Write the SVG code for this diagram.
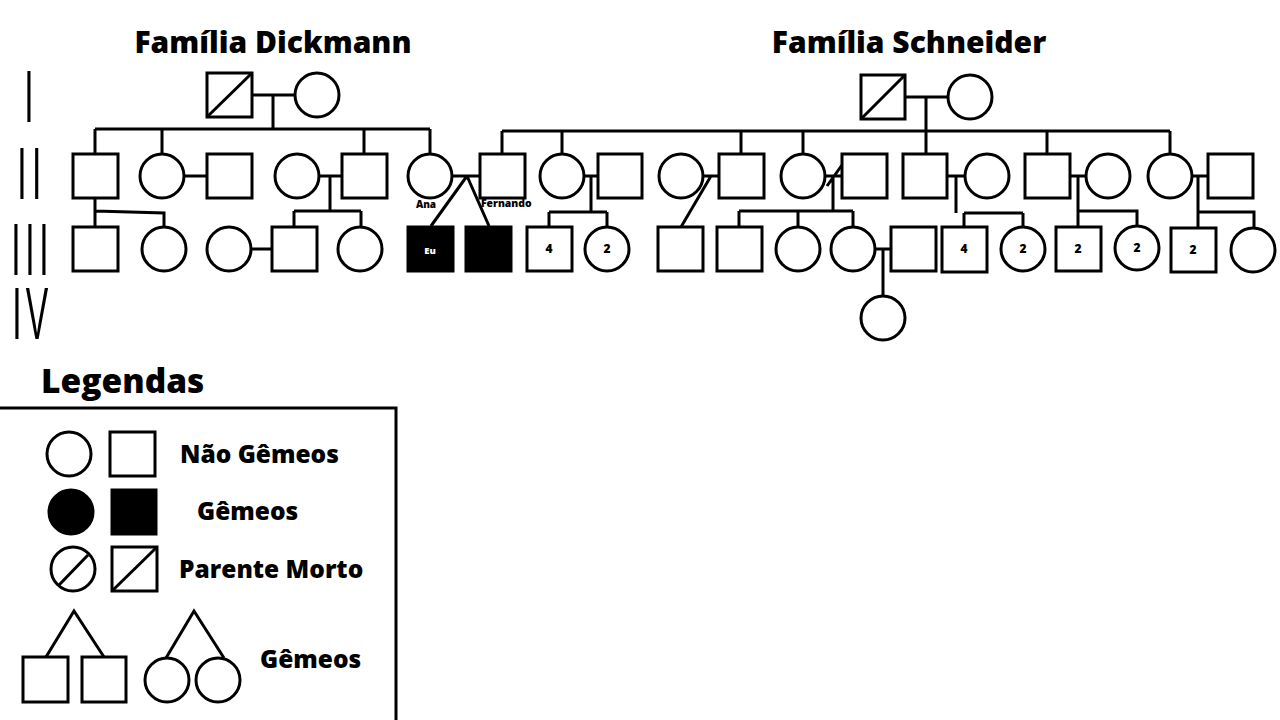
<svg xmlns="http://www.w3.org/2000/svg" width="1280" height="720" viewBox="0 0 1280 720">
<style>
.n{fill:#fff;stroke:#000;stroke-width:3}
.f{fill:#000;stroke:#000;stroke-width:3}
.l{fill:none;stroke:#000;stroke-width:3}
.t{font-family:"Open Sans","Liberation Sans",sans-serif;font-weight:800;fill:#000}
.rn{font-family:"Liberation Sans",sans-serif;font-size:75px;fill:#000}
.num{font-family:"Open Sans","Liberation Sans",sans-serif;font-weight:800;font-size:12px;text-anchor:middle;fill:#000}
.lg{font-size:24.5px}
</style>
<rect width="1280" height="720" fill="#fff"/>

<!-- titles -->
<text class="t" x="273" y="53" font-size="30" text-anchor="middle">Família Dickmann</text>
<text class="t" x="909" y="53" font-size="30" text-anchor="middle">Família Schneider</text>

<!-- generation numerals -->
<g id="gen-numerals">
<g transform="translate(24.3,0) scale(0.45,1)"><text class="rn" x="0" y="122">I</text></g>
<g transform="translate(17.3,0) scale(0.45,1)"><text class="rn" x="0" y="199" letter-spacing="11.8">II</text></g>
<g transform="translate(11.3,0) scale(0.45,1)"><text class="rn" x="0" y="275" letter-spacing="10.3">III</text></g>
<g transform="translate(12.3,0) scale(0.45,1)"><text class="rn" x="0" y="339" letter-spacing="9">IV</text></g>
</g>

<!-- connectors -->
<g id="connectors" class="l">
<!-- Dickmann -->
<path d="M252,95H295M273,95V129M95,129H430M95,129V154M162,129V154M364,129V154M430,129V154"/>
<path d="M184,176H207M319,176H342M330,176V211M294,211H361M294,211V227M361,211V227"/>
<path d="M95,198V227M95,211L164,213V227M251,249H272"/>
<path d="M452,176H480M467,176L431,226M467,176L489,226"/>
<!-- Schneider -->
<path d="M904,97H948M926,97V154M502,131H1170M502,131V154M562,131V154M741,131V154M803,131V154M1047,131V154M1170,131V154"/>
<path d="M584,176H598M591,176V212M549,212H607M549,212V227M607,212V227"/>
<path d="M703,176H719M711,176L681,227"/>
<path d="M825,176H842M827,186L842,165M833,176V211M739,211H853M739,211V227M798,211V227M853,211V227"/>
<path d="M875,249H891M883,249V296"/>
<path d="M947,176H965M956,176V213M964,213H1023M964,213V227M1023,213V227"/>
<path d="M1069,176H1086M1078,176V227M1078,211H1137V226"/>
<path d="M1192,176H1208M1198,176V228M1198,212H1254V228"/>
</g>

<!-- Dickmann generation I -->
<g id="d-i-father"><rect class="n" x="207" y="73" width="45" height="44"/><path class="l" d="M207,117L252,73"/></g>
<g id="d-i-mother"><circle class="n" cx="317" cy="95" r="22"/></g>
<!-- Dickmann generation II -->
<g id="d-ii-1"><rect class="n" x="73" y="154" width="45" height="44"/></g>
<g id="d-ii-2"><circle class="n" cx="162" cy="176" r="22"/></g>
<g id="d-ii-3"><rect class="n" x="207" y="154" width="45" height="44"/></g>
<g id="d-ii-4"><circle class="n" cx="297" cy="176" r="22"/></g>
<g id="d-ii-5"><rect class="n" x="342" y="154" width="45" height="44"/></g>
<g id="ana"><circle class="n" cx="430" cy="176" r="22"/><text class="t" x="426" y="208" font-size="10" text-anchor="middle">Ana</text></g>
<!-- Dickmann generation III -->
<g id="d-iii-1"><rect class="n" x="73" y="227" width="45" height="44"/></g>
<g id="d-iii-2"><circle class="n" cx="164" cy="249" r="22"/></g>
<g id="d-iii-3"><circle class="n" cx="229" cy="249" r="22"/></g>
<g id="d-iii-4"><rect class="n" x="272" y="227" width="45" height="44"/></g>
<g id="d-iii-5"><circle class="n" cx="360" cy="249" r="22"/></g>
<g id="eu"><rect class="f" x="408" y="227" width="45" height="44"/><text class="t" x="430" y="254" font-size="9.5" text-anchor="middle" style="fill:#fff">Eu</text></g>
<g id="twin"><rect class="f" x="466" y="227" width="45" height="44"/></g>

<!-- Schneider generation I -->
<g id="s-i-father"><rect class="n" x="861" y="75" width="44" height="44"/><path class="l" d="M861,119L905,75"/></g>
<g id="s-i-mother"><circle class="n" cx="970" cy="97" r="22"/></g>
<!-- Schneider generation II -->
<g id="fernando"><rect class="n" x="480" y="154" width="45" height="44"/><text class="t" x="481" y="207" font-size="10.4">Fernando</text></g>
<g id="s-ii-1"><circle class="n" cx="562" cy="176" r="22"/></g>
<g id="s-ii-2"><rect class="n" x="598" y="154" width="44" height="44"/></g>
<g id="s-ii-3"><circle class="n" cx="681" cy="176" r="22"/></g>
<g id="s-ii-4"><rect class="n" x="719" y="154" width="45" height="44"/></g>
<g id="s-ii-5"><circle class="n" cx="803" cy="176" r="22"/></g>
<g id="s-ii-6"><rect class="n" x="842" y="154" width="45" height="44"/></g>
<g id="s-ii-7"><rect class="n" x="903" y="154" width="44" height="44"/></g>
<g id="s-ii-8"><circle class="n" cx="987" cy="176" r="22"/></g>
<g id="s-ii-9"><rect class="n" x="1025" y="154" width="45" height="44"/></g>
<g id="s-ii-10"><circle class="n" cx="1108" cy="176" r="22"/></g>
<g id="s-ii-11"><circle class="n" cx="1170" cy="176" r="22"/></g>
<g id="s-ii-12"><rect class="n" x="1208" y="154" width="45" height="44"/></g>
<!-- Schneider generation III -->
<g id="s-iii-1"><rect class="n" x="527" y="227" width="45" height="44"/><text class="num" x="549" y="253">4</text></g>
<g id="s-iii-2"><circle class="n" cx="607" cy="249" r="22"/><text class="num" x="607" y="253">2</text></g>
<g id="s-iii-3"><rect class="n" x="658" y="227" width="45" height="44"/></g>
<g id="s-iii-4"><rect class="n" x="717" y="227" width="45" height="44"/></g>
<g id="s-iii-5"><circle class="n" cx="798" cy="249" r="22"/></g>
<g id="s-iii-6"><circle class="n" cx="853" cy="249" r="22"/></g>
<g id="s-iii-7"><rect class="n" x="891" y="227" width="45" height="44"/></g>
<g id="s-iii-8"><rect class="n" x="942" y="227" width="45" height="45"/><text class="num" x="964" y="253">4</text></g>
<g id="s-iii-9"><circle class="n" cx="1023" cy="249" r="22"/><text class="num" x="1023" y="253">2</text></g>
<g id="s-iii-10"><rect class="n" x="1056" y="227" width="45" height="44"/><text class="num" x="1078" y="253">2</text></g>
<g id="s-iii-11"><circle class="n" cx="1137" cy="248" r="22"/><text class="num" x="1137" y="252">2</text></g>
<g id="s-iii-12"><rect class="n" x="1171" y="228" width="45" height="44"/><text class="num" x="1193" y="254">2</text></g>
<g id="s-iii-13"><circle class="n" cx="1253" cy="250" r="22"/></g>
<!-- generation IV -->
<g id="s-iv-1"><circle class="n" cx="883" cy="318" r="22"/></g>

<!-- legend -->
<g id="legend">
<text class="t" x="41" y="393" font-size="33.5">Legendas</text>
<path class="l" d="M-2,408H396V722"/>
<circle class="n" cx="69" cy="454" r="22"/>
<rect class="n" x="110" y="432" width="45" height="44"/>
<text class="t lg" x="180" y="463">Não Gêmeos</text>
<circle class="f" cx="71" cy="512" r="22"/>
<rect class="f" x="112" y="490" width="44" height="44"/>
<text class="t lg" x="197" y="520">Gêmeos</text>
<circle class="n" cx="73" cy="569" r="22"/>
<path class="l" d="M59,585L88,555"/>
<rect class="n" x="112" y="547" width="45" height="44"/>
<path class="l" d="M112,591L157,547"/>
<text class="t lg" x="179" y="578">Parente Morto</text>
<rect class="n" x="23" y="657" width="45" height="45"/>
<rect class="n" x="82" y="657" width="44" height="45"/>
<path class="l" d="M46,657L74,611L104,657"/>
<circle class="n" cx="167" cy="680" r="22"/>
<circle class="n" cx="218" cy="680" r="22"/>
<path class="l" d="M166,658L194,611L224,658"/>
<text class="t lg" x="260" y="668">Gêmeos</text>
</g>
</svg>
